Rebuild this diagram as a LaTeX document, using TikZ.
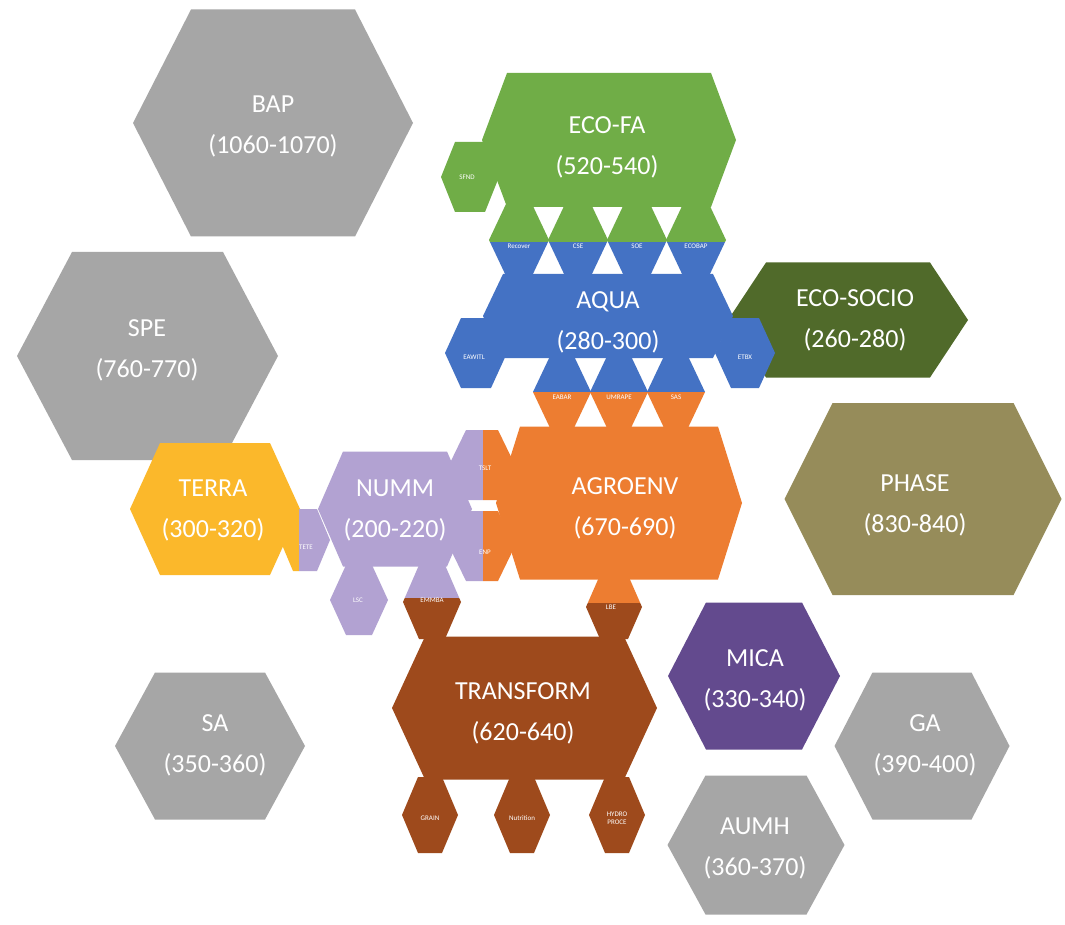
\documentclass[tikz,border=0pt]{standalone}
\usepackage{fontspec}
\setmainfont{Carlito}
\definecolor{cgray}{HTML}{A6A6A6}
\definecolor{cgreen}{HTML}{70AD47}
\definecolor{cblue}{HTML}{4472C4}
\definecolor{corange}{HTML}{ED7D31}
\definecolor{cyellow}{HTML}{FBB82B}
\definecolor{clav}{HTML}{B2A2D2}
\definecolor{cbrown}{HTML}{9E4A1C}
\definecolor{cdkgreen}{HTML}{506A2A}
\definecolor{ckhaki}{HTML}{968C5A}
\definecolor{cpurple}{HTML}{634A8E}
\newcommand\hexfill[6]{\fill[#6] ({#1-#3/2},{#2}) -- ({#1-#3/2+#5},{#2-#4/2}) -- ({#1+#3/2-#5},{#2-#4/2}) -- ({#1+#3/2},{#2}) -- ({#1+#3/2-#5},{#2+#4/2}) -- ({#1-#3/2+#5},{#2+#4/2}) -- cycle;}
\newcommand\hexsplitv[8]{\begin{scope}\clip ({#1-#3/2},{#2}) -- ({#1-#3/2+#5},{#2-#4/2}) -- ({#1+#3/2-#5},{#2-#4/2}) -- ({#1+#3/2},{#2}) -- ({#1+#3/2-#5},{#2+#4/2}) -- ({#1-#3/2+#5},{#2+#4/2}) -- cycle;
\fill[#6] ({#1-#3},{#2-#4}) rectangle ({#1+#3},{#8});
\fill[#7] ({#1-#3},{#8}) rectangle ({#1+#3},{#2+#4});\end{scope}}
\newcommand\hexsplith[8]{\begin{scope}\clip ({#1-#3/2},{#2}) -- ({#1-#3/2+#5},{#2-#4/2}) -- ({#1+#3/2-#5},{#2-#4/2}) -- ({#1+#3/2},{#2}) -- ({#1+#3/2-#5},{#2+#4/2}) -- ({#1-#3/2+#5},{#2+#4/2}) -- cycle;
\fill[#6] ({#1-#3},{#2-#4}) rectangle ({#8},{#2+#4});
\fill[#7] ({#8},{#2-#4}) rectangle ({#1+#3},{#2+#4});\end{scope}}
\begin{document}
\begin{tikzpicture}[x=1pt,y=-1pt,
  big/.style={text=white, align=center, font=\fontsize{26}{41}\selectfont, inner sep=0pt},
  small/.style={text=white, align=center, font=\fontsize{7}{8}\selectfont, inner sep=0pt}]
\useasboundingbox (0,0) rectangle (1065,925);
\fill[white] (0,0) rectangle (1065,925);
% gray hexagons
\hexfill{273}{123}{280}{227}{58}{cgray}
\hexfill{147.5}{356}{261}{208}{55}{cgray}
\hexfill{210}{746}{190}{147}{40}{cgray}
\hexfill{922}{746}{175}{147}{38}{cgray}
\hexfill{756}{845}{177}{139}{38}{cgray}
% coloured
\hexfill{754}{676}{172}{147}{38}{cpurple}
\hexfill{923}{499}{277}{192}{48}{ckhaki}
\hexfill{848}{320}{240}{115}{38}{cdkgreen}
\hexfill{215}{509}{170}{132}{30}{cyellow}
% ECO-FA
\hexfill{609}{140}{254}{134}{25}{cgreen}
\hexfill{470}{177}{58}{70}{14}{cgreen}
% AQUA
\hexfill{608}{316}{250}{84}{20}{cblue}
\hexfill{476}{353}{62}{70}{16}{cblue}
\hexfill{745}{353}{60}{70}{16}{cblue}
\hexsplitv{519}{240}{60}{72}{17}{cgreen}{cblue}{242}
\hexsplitv{578}{240}{60}{72}{17}{cgreen}{cblue}{242}
\hexsplitv{637}{240}{60}{72}{17}{cgreen}{cblue}{242}
\hexsplitv{696}{240}{60}{72}{17}{cgreen}{cblue}{242}
% AGROENV
\hexfill{619}{503}{246}{153}{24}{corange}
\hexsplitv{562}{392}{58}{76}{18}{cblue}{corange}{392}
\hexsplitv{619}{392}{58}{76}{18}{cblue}{corange}{392}
\hexsplitv{676}{392}{58}{76}{18}{cblue}{corange}{392}
% TRANSFORM
\hexfill{524.5}{708}{265}{143}{33}{cbrown}
\hexfill{430}{815}{56}{76}{16}{cbrown}
\hexfill{522}{815}{56}{76}{16}{cbrown}
\hexfill{617}{815}{56}{76}{16}{cbrown}
\hexsplitv{614}{607}{56}{64}{14}{corange}{cbrown}{603}
% NUMM
\hexfill{395}{509}{154}{115}{25}{clav}
\hexfill{359}{600}{58}{70}{16}{clav}
\hexsplitv{432}{602}{58}{74}{16}{clav}{cbrown}{598}
\hexsplith{305}{540}{50}{62}{13}{cyellow}{clav}{299}
\hexsplith{482}{465}{66}{70}{17}{clav}{corange}{483}
\hexsplith{482}{546}{66}{70}{17}{clav}{corange}{483}
% big labels
\node[big] (bap) at (273,126) {BAP\\(1060-1070)};
\node[big] (spe) at (147,350) {SPE\\(760-770)};
\node[big] (ecofa) at (607,147) {ECO-FA\\(520-540)};
\node[big] (aqua) at (608,322) {AQUA\\(280-300)};
\node[big] (ecosocio) at (855,320) {ECO-SOCIO\\(260-280)};
\node[big] (terra) at (213,510) {TERRA\\(300-320)};
\node[big] (numm) at (395,510) {NUMM\\(200-220)};
\node[big] (agroenv) at (625,508) {AGROENV\\(670-690)};
\node[big] (phase) at (915,505) {PHASE\\(830-840)};
\node[big] (mica) at (755,680) {MICA\\(330-340)};
\node[big] (transform) at (523,713) {TRANSFORM\\(620-640)};
\node[big] (sa) at (215,745) {SA\\(350-360)};
\node[big] (ga) at (925,745) {GA\\(390-400)};
\node[big] (aumh) at (755,848) {AUMH\\(360-370)};
% small labels
\node[small] (sfnd) at (467,177) {SFND};
\node[small] (recover) at (519,246) {Recover};
\node[small] (cse) at (578,246) {CSE};
\node[small] (soe) at (637,246) {SOE};
\node[small] (ecobap) at (696,246) {ECOBAP};
\node[small] (eawitl) at (474,357) {EAWITL};
\node[small] (etbx) at (745,357) {ETBX};
\node[small] (eabar) at (562,397) {EABAR};
\node[small] (umrape) at (619,397) {UMRAPE};
\node[small] (sas) at (676,397) {SAS};
\node[small] (tslt) at (485,468) {TSLT};
\node[small] (enp) at (485,552) {ENP};
\node[small] (tete) at (306,547) {TETE};
\node[small] (lsc) at (358,600) {LSC};
\node[small] (emmba) at (432,600) {EMMBA};
\node[small] (lbe) at (611,607) {LBE};
\node[small] (grain) at (430,818) {GRAIN};
\node[small] (nutrition) at (522,818) {Nutrition};
\node[small] (hydro) at (617,818) {HYDRO\\PROCE};
\end{tikzpicture}
\end{document}
